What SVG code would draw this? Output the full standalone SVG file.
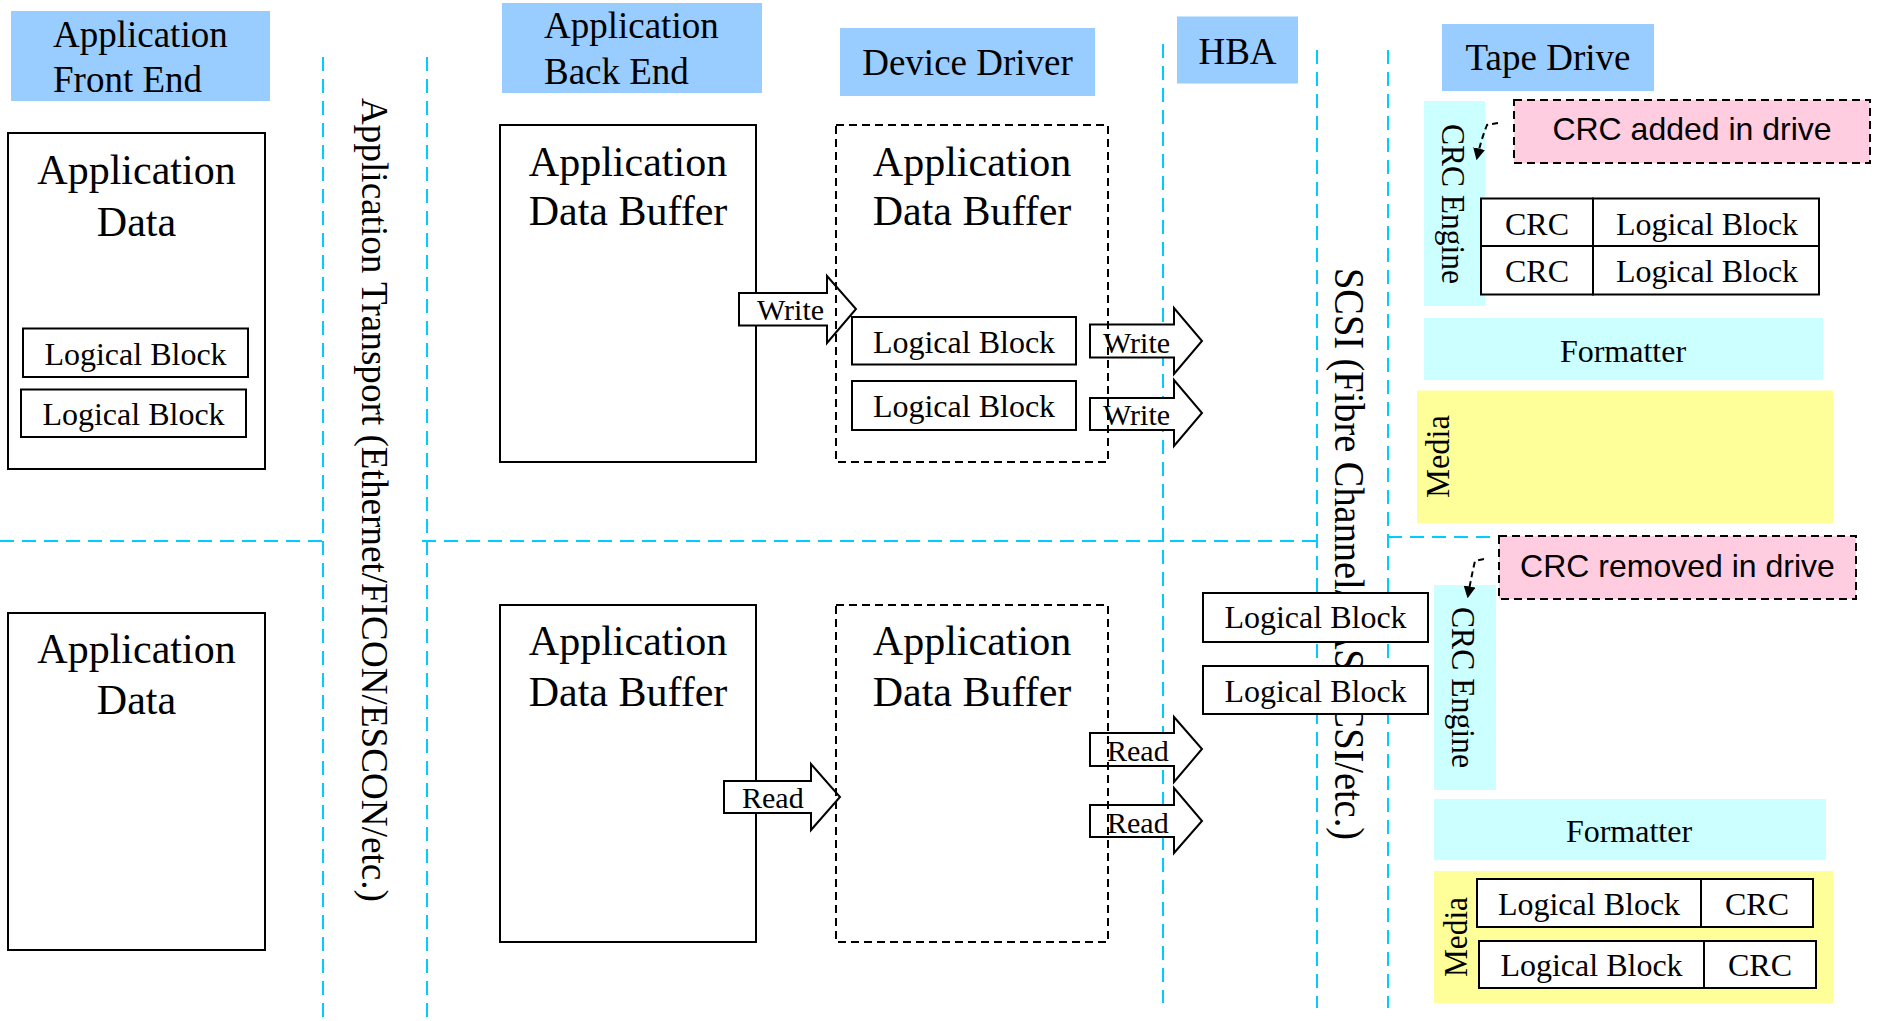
<svg xmlns="http://www.w3.org/2000/svg" width="1881" height="1021" viewBox="0 0 1881 1021">
<style>
.hdr{fill:#99ccff}
.cy{fill:#ccffff}
.ye{fill:#ffff99}
.pk{fill:#ffcce0;stroke:#000;stroke-width:2;stroke-dasharray:8 5}
.box{fill:#fff;stroke:#000;stroke-width:2}
.dbox{fill:none;stroke:#000;stroke-width:2;stroke-dasharray:8 5}
.arw{fill:#fff;stroke:#000;stroke-width:2;stroke-linejoin:miter}
.lane{fill:none;stroke:#00ccff;stroke-width:2;stroke-dasharray:14 8}
.note{fill:none;stroke:#000;stroke-width:2;stroke-dasharray:6 4}
.t{font-family:"Liberation Serif","Times New Roman",serif;fill:#000}
.s{font-family:"Liberation Sans",Arial,sans-serif;fill:#000}
.h{font-size:37px}
.b{font-size:42px}
.lb{font-size:32px}
.a{font-size:30px}
.c{text-anchor:middle}
</style>
<defs>
<marker id="ah" viewBox="0 0 10 10" refX="8" refY="5" markerWidth="6" markerHeight="6" orient="auto" markerUnits="strokeWidth">
<path d="M0,0 L10,5 L0,10 z" fill="#000"/>
</marker>
</defs>

<g id="lanes">
<line class="lane" x1="323" y1="57" x2="323" y2="1021"/>
<line class="lane" x1="427" y1="57" x2="427" y2="1021"/>
<line class="lane" x1="1163" y1="44" x2="1163" y2="1003"/>
<line class="lane" x1="1317" y1="50" x2="1317" y2="1008"/>
<line class="lane" x1="1388" y1="50" x2="1388" y2="1008"/>
<line class="lane" x1="0" y1="541" x2="322" y2="541"/>
<line class="lane" x1="422" y1="541" x2="1317" y2="541"/>
<line class="lane" x1="1388" y1="537" x2="1850" y2="537"/>
</g>

<g id="hdr-front">
<rect class="hdr" x="11" y="11" width="259" height="90"/>
<text class="t h" x="53" y="47">Application</text>
<text class="t h" x="53" y="92">Front End</text>
</g>
<g id="hdr-back">
<rect class="hdr" x="502" y="3" width="260" height="90"/>
<text class="t h" x="544" y="38">Application</text>
<text class="t h" x="544" y="84">Back End</text>
</g>
<g id="hdr-driver">
<rect class="hdr" x="840" y="28" width="255" height="68"/>
<text class="t h c" x="967.5" y="75">Device Driver</text>
</g>
<g id="hdr-hba">
<rect class="hdr" x="1177" y="16.5" width="121" height="67"/>
<text class="t h c" x="1237.5" y="64">HBA</text>
</g>
<g id="hdr-tape">
<rect class="hdr" x="1442" y="24" width="212" height="67"/>
<text class="t h c" x="1548" y="70">Tape Drive</text>
</g>

<g id="transport-label">
<text class="t" font-size="38" transform="translate(362,98) rotate(90)" textLength="804" lengthAdjust="spacingAndGlyphs">Application Transport (Ethernet/FICON/ESCON/etc.)</text>
</g>
<g id="scsi-label">
<text class="t" font-size="42" transform="translate(1335,268) rotate(90)" textLength="572" lengthAdjust="spacingAndGlyphs">SCSI (Fibre Channel/SAS/SCSI/etc.)</text>
</g>

<g id="app-data-write">
<rect class="box" x="8" y="133" width="257" height="336"/>
<text class="t b c" x="136.5" y="184">Application</text>
<text class="t b c" x="136.5" y="235.5">Data</text>
</g>
<g id="fe-lb1">
<rect class="box" x="23" y="328.5" width="225" height="48.5"/>
<text class="t lb c" x="135.5" y="365">Logical Block</text>
</g>
<g id="fe-lb2">
<rect class="box" x="21" y="389.5" width="225" height="47.5"/>
<text class="t lb c" x="133.5" y="424.5">Logical Block</text>
</g>
<g id="app-data-read">
<rect class="box" x="8" y="613" width="257" height="337"/>
<text class="t b c" x="136.5" y="663">Application</text>
<text class="t b c" x="136.5" y="714">Data</text>
</g>

<g id="be-buffer-write">
<rect class="box" x="500" y="125" width="256" height="337"/>
<text class="t b c" x="628" y="175.5">Application</text>
<text class="t b c" x="628" y="225">Data Buffer</text>
</g>
<g id="be-buffer-read">
<rect class="box" x="500" y="605" width="256" height="337"/>
<text class="t b c" x="628" y="655">Application</text>
<text class="t b c" x="628" y="706">Data Buffer</text>
</g>

<g id="connectors">
<polygon class="arw" points="739,293 827,293 827,276 856,309 827,343 827,325.5 739,325.5"/>
<text class="t a" x="757" y="320">Write</text>
<polygon class="arw" points="1090,324.5 1174,324.5 1174,308 1202,341 1174,374 1174,357.5 1090,357.5"/>
<text class="t a" x="1103" y="353">Write</text>
<polygon class="arw" points="1090,398 1174,398 1174,380 1202,413 1174,446 1174,430 1090,430"/>
<text class="t a" x="1103" y="424.5">Write</text>
<polygon class="arw" points="724,781 811,781 811,764 840,797 811,830 811,813 724,813"/>
<text class="t a" x="742" y="808">Read</text>
<polygon class="arw" points="1090,733 1174,733 1174,717 1202,749 1174,782 1174,766 1090,766"/>
<text class="t a" x="1107" y="761">Read</text>
<polygon class="arw" points="1090,805 1174,805 1174,788 1202,821 1174,853 1174,837 1090,837"/>
<text class="t a" x="1107" y="833">Read</text>
</g>

<g id="dd-buffer-write">
<rect class="dbox" x="836" y="125" width="272" height="337"/>
<text class="t b c" x="972" y="175.5">Application</text>
<text class="t b c" x="972" y="225">Data Buffer</text>
</g>
<g id="dd-lb1">
<rect class="box" x="852" y="317" width="224" height="47.5"/>
<text class="t lb c" x="964" y="352.5">Logical Block</text>
</g>
<g id="dd-lb2">
<rect class="box" x="852" y="381" width="224" height="49"/>
<text class="t lb c" x="964" y="416.5">Logical Block</text>
</g>
<g id="dd-buffer-read">
<rect class="dbox" x="836" y="605" width="272" height="337"/>
<text class="t b c" x="972" y="655">Application</text>
<text class="t b c" x="972" y="706">Data Buffer</text>
</g>

<g id="hba-lb1">
<rect class="box" x="1203" y="593" width="225" height="49"/>
<text class="t lb c" x="1315.5" y="628">Logical Block</text>
</g>
<g id="hba-lb2">
<rect class="box" x="1203" y="666" width="225" height="48"/>
<text class="t lb c" x="1315.5" y="702">Logical Block</text>
</g>

<g id="crc-engine-write">
<rect class="cy" x="1424" y="101" width="61" height="205"/>
<text class="t" font-size="33" transform="translate(1442,124) rotate(90)" textLength="160" lengthAdjust="spacingAndGlyphs">CRC Engine</text>
</g>
<g id="note-added">
<rect class="pk" x="1514" y="100" width="356" height="63"/>
<text class="s c" font-size="32" x="1692" y="139.5">CRC added in drive</text>
</g>
<g id="tape-blocks-write">
<rect class="box" x="1481" y="198.5" width="112" height="47.5"/>
<rect class="box" x="1593" y="198.5" width="226" height="47.5"/>
<rect class="box" x="1481" y="246" width="112" height="48.5"/>
<rect class="box" x="1593" y="246" width="226" height="48.5"/>
<text class="t lb c" x="1537" y="234.5">CRC</text>
<text class="t lb c" x="1707" y="234.5">Logical Block</text>
<text class="t lb c" x="1537" y="282">CRC</text>
<text class="t lb c" x="1707" y="282">Logical Block</text>
</g>
<g id="formatter-write">
<rect class="cy" x="1424" y="318" width="399" height="62"/>
<text class="t lb c" x="1623" y="361.5">Formatter</text>
</g>
<g id="media-write">
<rect class="ye" x="1417" y="390.5" width="416" height="132.5"/>
<text class="t" font-size="33" transform="translate(1449,498) rotate(-90)" textLength="83" lengthAdjust="spacingAndGlyphs">Media</text>
</g>

<g id="note-removed">
<rect class="pk" x="1499" y="536" width="357" height="63"/>
<text class="s c" font-size="32" x="1677.5" y="577">CRC removed in drive</text>
</g>
<g id="crc-engine-read">
<rect class="cy" x="1434" y="585" width="62" height="205"/>
<text class="t" font-size="33" transform="translate(1452,607) rotate(90)" textLength="161" lengthAdjust="spacingAndGlyphs">CRC Engine</text>
</g>
<g id="formatter-read">
<rect class="cy" x="1434" y="799" width="392" height="61"/>
<text class="t lb c" x="1629" y="842">Formatter</text>
</g>
<g id="media-read">
<rect class="ye" x="1434" y="871" width="399" height="132"/>
<text class="t" font-size="33" transform="translate(1467,977) rotate(-90)" textLength="80" lengthAdjust="spacingAndGlyphs">Media</text>
<rect class="box" x="1477" y="879" width="224" height="48"/>
<rect class="box" x="1701" y="879" width="112" height="48"/>
<rect class="box" x="1479" y="941" width="225" height="47"/>
<rect class="box" x="1704" y="941" width="112" height="47"/>
<text class="t lb c" x="1589" y="915">Logical Block</text>
<text class="t lb c" x="1757" y="915">CRC</text>
<text class="t lb c" x="1591.5" y="976">Logical Block</text>
<text class="t lb c" x="1760" y="976">CRC</text>
</g>

<g id="note-connectors">
<path class="note" d="M1498,123 L1487,125 Q1481,140 1477,158" marker-end="url(#ah)"/>
<path class="note" d="M1484,559 L1475,561 Q1471,578 1468,596" marker-end="url(#ah)"/>
</g>
</svg>
